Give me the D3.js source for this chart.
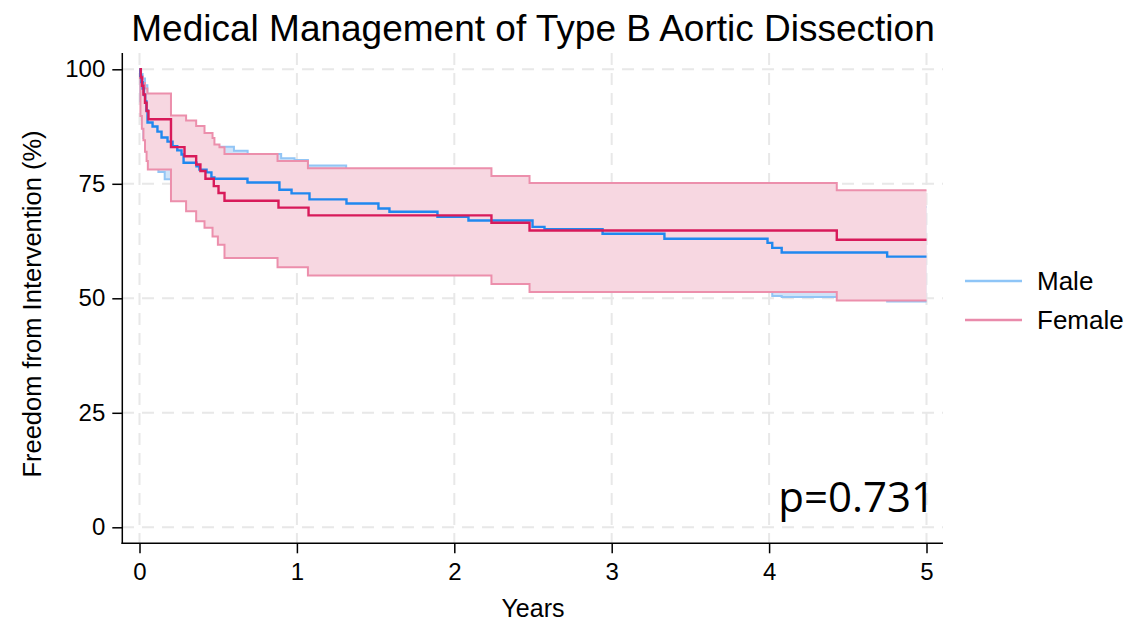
<!DOCTYPE html>
<html>
<head>
<meta charset="utf-8">
<script src="https://cdn.jsdelivr.net/npm/d3@7"></script>
<style>
  body { margin: 0; background: #fff; }
  text { font-family: "Liberation Sans", Arial, sans-serif; fill: #000; }
</style>
</head>
<body>
<div id="chart-area"></div>
<script>
// Kaplan-Meier estimates (years, % free from intervention)
const maleTime = [0, 0.005, 0.012, 0.02, 0.028, 0.036, 0.044, 0.051, 0.083, 0.114, 0.14, 0.178, 0.21, 0.24, 0.267, 0.28, 0.362, 0.381, 0.426, 0.457, 0.476, 0.686, 0.889, 0.966, 1.08, 1.315, 1.518, 1.588, 1.893, 2.09, 2.497, 2.573, 2.942, 3.335, 3.99, 4.02, 4.08, 4.75, 5]
const maleSurv = [100, 98.6, 97.2, 95.8, 94.4, 93.0, 91.0, 88.4, 87.5, 86.4, 85.1, 84.2, 83.2, 82.3, 81.4, 79.6, 78.8, 78.1, 77.5, 76.4, 76.1, 75.3, 73.7, 72.9, 71.6, 70.7, 69.6, 68.9, 67.8, 67.0, 65.6, 65.1, 64.1, 63.0, 62.1, 61.0, 60.0, 59.1, 59.1]

const femaleTime = [0, 0.008, 0.016, 0.025, 0.035, 0.045, 0.057, 0.2, 0.286, 0.36, 0.387, 0.419, 0.472, 0.502, 0.54, 0.883, 1.074, 2.236, 2.478, 4.43, 5]
const femaleSurv = [100, 98.2, 96.4, 94.5, 92.7, 90.9, 89.1, 83.0, 81.0, 79.2, 77.8, 76.1, 74.5, 73.0, 71.3, 69.8, 68.1, 66.5, 64.8, 62.8, 62.8]

// confidence bands
const maleUpTime = [0, 0.01, 0.02, 0.035, 0.05, 0.08, 0.12, 0.17, 0.22, 0.3, 0.4, 0.47, 0.6, 0.687, 0.9, 0.985, 1.07, 1.313, 1.6, 2.1, 2.5, 3.0, 4.0, 4.75, 5]
const maleUp = [100, 99, 98, 96.5, 94, 92.5, 91, 89.5, 88, 86.5, 85, 83.1, 82.2, 81.5, 80.6, 80.2, 79.0, 77.5, 76, 74.5, 73, 72, 71, 70, 70]
const maleLoTime = [0, 0.006, 0.015, 0.025, 0.04, 0.06, 0.12, 0.16, 0.21, 0.28, 0.36, 0.46, 0.69, 0.9, 1.08, 1.5, 1.9, 2.1, 2.5, 2.94, 3.33, 3.99, 4.02, 4.08, 4.75, 5]
const maleLo = [100, 93, 89, 85, 82, 79.5, 77.6, 76.0, 73.5, 71.5, 70, 68.5, 67, 65.5, 64, 62.5, 61, 60, 58.5, 57, 55.5, 54, 50.5, 50.3, 49.3, 49.3]

const femaleUpTime = [0, 0.01, 0.02, 0.035, 0.05, 0.2, 0.296, 0.36, 0.413, 0.464, 0.476, 0.508, 0.54, 0.877, 1.07, 2.236, 2.478, 4.43, 5]
const femaleUp = [100, 98.5, 97, 95.8, 94.7, 89.9, 88.8, 87.6, 86.1, 85.0, 83.6, 83.0, 81.5, 80.0, 78.4, 76.7, 75.2, 73.6, 73.6]
const femaleLoTime = [0, 0.006, 0.015, 0.025, 0.035, 0.045, 0.053, 0.2, 0.296, 0.36, 0.413, 0.464, 0.498, 0.54, 0.877, 1.07, 2.236, 2.478, 4.43, 5]
const femaleLo = [100, 89.8, 87, 84.5, 82, 80, 78.1, 71.2, 69.0, 66.8, 65.4, 63.5, 61.7, 58.8, 56.8, 55.0, 53.1, 51.4, 49.5, 49.5]

const xTicks = [0, 1, 2, 3, 4, 5]
const yTicks = [0, 25, 50, 75, 100]
const groups = ["Male", "Female"]

const svg = d3.select("#chart-area").append("svg")
    .attr("width", 1130)
    .attr("height", 623)

const x = d3.scaleLinear().domain([0, 5]).range([139.5, 926.5])
const y = d3.scaleLinear().domain([0, 100]).range([527.3, 69.3])

// grid
svg.append("g").selectAll("line").data(xTicks).join("line")
    .attr("x1", d => x(d)).attr("x2", d => x(d))
    .attr("y1", 53).attr("y2", 543)
    .attr("stroke", "#e8e8e8").attr("stroke-width", 2)
    .attr("stroke-dasharray", "12,8")
svg.append("g").selectAll("line").data(yTicks).join("line")
    .attr("x1", 122).attr("x2", 943)
    .attr("y1", d => y(d)).attr("y2", d => y(d))
    .attr("stroke", "#e8e8e8").attr("stroke-width", 2)
    .attr("stroke-dasharray", "12,8")

// step function helper
function stepAt(times, vals, t) {
    let v = vals[0]
    for (let i = 0; i < times.length; i++) { if (times[i] <= t) v = vals[i] }
    return v
}
function band(upT, up, loT, lo) {
    const ts = Array.from(new Set(upT.concat(loT))).sort((a, b) => a - b)
    return ts.map(t => ({ t: t, hi: stepAt(upT, up, t), lo: stepAt(loT, lo, t) }))
}
const toPts = (ts, vs) => ts.map((t, i) => ({ t: t, v: vs[i] }))

const area = d3.area().curve(d3.curveStepAfter)
    .x(d => x(d.t)).y0(d => y(d.lo)).y1(d => y(d.hi))
const line = d3.line().curve(d3.curveStepAfter)
    .x(d => x(d.t)).y(d => y(d.v))

// male band (underneath)
svg.append("path").datum(band(maleUpTime, maleUp, maleLoTime, maleLo))
    .attr("d", area).attr("fill", "#cfe3f8")
svg.append("path").datum(toPts(maleUpTime, maleUp))
    .attr("d", line).attr("fill", "none").attr("stroke", "#92c5f5").attr("stroke-width", 2)
svg.append("path").datum(toPts(maleLoTime, maleLo))
    .attr("d", line).attr("fill", "none").attr("stroke", "#92c5f5").attr("stroke-width", 2)

// female band
svg.append("path").datum(band(femaleUpTime, femaleUp, femaleLoTime, femaleLo))
    .attr("d", area).attr("fill", "#f7d7e1")
svg.append("path").datum(toPts(femaleUpTime, femaleUp))
    .attr("d", line).attr("fill", "none").attr("stroke", "#ec8fac").attr("stroke-width", 2)
svg.append("path").datum(toPts(femaleLoTime, femaleLo))
    .attr("d", line).attr("fill", "none").attr("stroke", "#ec8fac").attr("stroke-width", 2)

// estimates
svg.append("path").datum(toPts(maleTime, maleSurv))
    .attr("d", line).attr("fill", "none").attr("stroke", "#2088ef").attr("stroke-width", 2.4)
svg.append("path").datum(toPts(femaleTime, femaleSurv))
    .attr("d", line).attr("fill", "none").attr("stroke", "#d81a5a").attr("stroke-width", 2.4)

// axes
const xAxis = svg.append("g")
    .attr("transform", "translate(0,543.3)")
    .call(d3.axisBottom(x).tickValues(xTicks).tickFormat(d3.format("d"))
        .tickSize(10).tickPadding(10).tickSizeOuter(0))
const yAxis = svg.append("g")
    .attr("transform", "translate(122.3,0)")
    .call(d3.axisLeft(y).tickValues(yTicks).tickFormat(d3.format("d"))
        .tickSize(10).tickPadding(7).tickSizeOuter(0))
xAxis.select(".domain").remove()
yAxis.select(".domain").remove()
svg.selectAll(".tick line").attr("stroke", "#000").attr("stroke-width", 1.5)
svg.selectAll(".tick text").attr("font-size", 24).attr("font-family", "Liberation Sans")

svg.append("line").attr("x1", 122.3).attr("x2", 122.3).attr("y1", 53).attr("y2", 544)
    .attr("stroke", "#000").attr("stroke-width", 1.5)
svg.append("line").attr("x1", 121.5).attr("x2", 943).attr("y1", 543.3).attr("y2", 543.3)
    .attr("stroke", "#000").attr("stroke-width", 1.5)

// titles
svg.append("text")
    .attr("x", 533).attr("y", 41)
    .attr("text-anchor", "middle")
    .attr("font-size", 37)
    .text("Medical Management of Type B Aortic Dissection")

svg.append("text")
    .attr("x", 533).attr("y", 617)
    .attr("text-anchor", "middle")
    .attr("font-size", 25)
    .text("Years")

svg.append("text")
    .attr("transform", "translate(41,304) rotate(-90)")
    .attr("text-anchor", "middle")
    .attr("font-size", 25.5)
    .text("Freedom from Intervention (%)")

svg.append("text")
    .attr("x", 935).attr("y", 512)
    .attr("text-anchor", "end")
    .attr("font-size", 42)
    .style("font-family", "'Open Sans', sans-serif")
    .text("p=0.731")

// legend
const legendColors = ["#8ec5f7", "#e98bab"]
const legend = svg.append("g").selectAll("g").data(groups).join("g")
    .attr("transform", (d, i) => `translate(965,${281 + i * 39})`)
legend.append("line")
    .attr("x1", 0).attr("x2", 57).attr("y1", 0).attr("y2", 0)
    .attr("stroke", (d, i) => legendColors[i]).attr("stroke-width", 2.5)
legend.append("text")
    .attr("x", 72).attr("y", 9)
    .attr("font-size", 26)
    .text(d => d)
</script>
</body>
</html>
